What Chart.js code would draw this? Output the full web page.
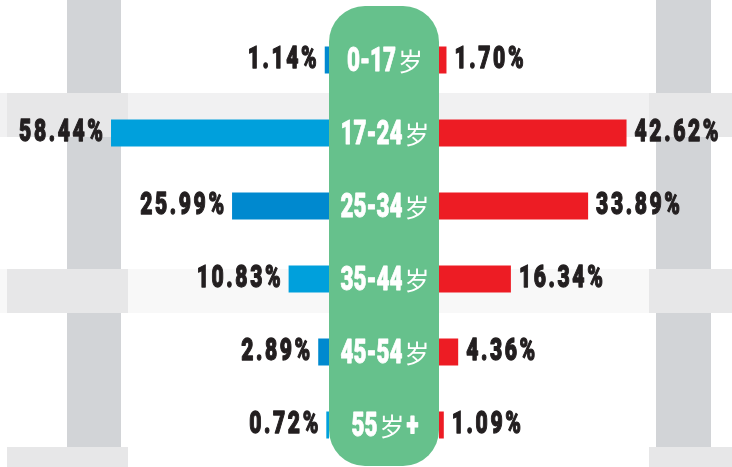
<!DOCTYPE html>
<html lang="zh">
<head>
<meta charset="utf-8">
<title>用户年龄分布</title>
<script src="https://cdn.jsdelivr.net/npm/chart.js@4.4.1/dist/chart.umd.min.js"></script>
<style>
  html, body { margin: 0; padding: 0; background: #fff; }
  #wrap { position: relative; width: 732px; height: 467px; }
</style>
</head>
<body>
<div id="wrap"><canvas id="ageChart"></canvas></div>
<script>
'use strict';

// ── data ────────────────────────────────────────────────────────────────────
const AGE_GROUPS   = ['0-17岁', '17-24岁', '25-34岁', '35-44岁', '45-54岁', '55岁+'];
const LEFT_VALUES  = [1.14, 58.44, 25.99, 10.83, 2.89, 0.72];   // blue side, %
const RIGHT_VALUES = [1.70, 42.62, 33.89, 16.34, 4.36, 1.09];   // red side, %

// ── layout / style ──────────────────────────────────────────────────────────
const W = 732;
const PILL = { left: 329, right: 439, top: 6, bottom: 466, r: 36 };
const PX_PER_PCT_LEFT = 3.73;    // the two halves are drawn at different scales
const PX_PER_PCT_RIGHT = 4.4;

const BLUE_DARK = '#0089cf';
const BLUE_LIGHT = '#00a0dc';
const RED = '#ed1c24';
const GREEN = '#66c18c';
const INK = '#231f20';

const NUM_FONT = '900 31px Roboto, "Liberation Sans", sans-serif';
const AGE_FONT = '900 33px Roboto, "Liberation Sans", sans-serif';
const CJK_FONT = '400 25px "Noto Sans CJK SC", sans-serif';

// ── helpers ─────────────────────────────────────────────────────────────────

/** width of a run of glyphs drawn squeezed horizontally by sx, with extra gap */
function runWidth(ctx, text, font, sx, gap) {
  ctx.font = font;
  const chars = [...text];
  const w = chars.reduce((s, ch) => s + ctx.measureText(ch).width * sx, 0);
  return w + gap * Math.max(0, chars.length - 1);
}

/** draw a run glyph by glyph starting at x (left edge), baseline y; bold > 0 fattens strokes */
function drawRun(ctx, text, x, y, font, sx, gap, color, bold = 0) {
  ctx.save();
  ctx.font = font;
  ctx.fillStyle = color;
  ctx.strokeStyle = color;
  ctx.lineJoin = 'round';
  ctx.textAlign = 'left';
  ctx.textBaseline = 'alphabetic';
  let cx = x;
  for (const ch of text) {
    const w = ctx.measureText(ch).width;
    ctx.save();
    ctx.translate(cx, y);
    ctx.scale(sx, 1);
    ctx.fillText(ch, 0, 0);
    if (bold > 0) {
      ctx.lineWidth = bold;
      ctx.strokeText(ch, 0, 0);
    }
    ctx.restore();
    cx += w * sx + gap;
  }
  ctx.restore();
}

function pillPath(ctx, p) {
  const { left: x0, right: x1, top: y0, bottom: y1, r } = p;
  ctx.beginPath();
  ctx.moveTo(x0 + r, y0);
  ctx.arcTo(x1, y0, x1, y1, r);
  ctx.arcTo(x1, y1, x0, y1, r);
  ctx.arcTo(x0, y1, x0, y0, r);
  ctx.arcTo(x0, y0, x1, y0, r);
  ctx.closePath();
}

// ── plugins ─────────────────────────────────────────────────────────────────

// grey pillars and bands behind everything
const backdrop = {
  id: 'backdrop',
  beforeDraw(chart) {
    const ctx = chart.ctx;
    ctx.save();
    // faint horizontal bands
    ctx.fillStyle = '#f1f1f2';
    ctx.fillRect(0, 93, W, 44);
    ctx.fillStyle = '#f8f8f8';
    ctx.fillRect(0, 269, W, 44);
    // pillars
    ctx.fillStyle = '#d2d4d7';
    ctx.fillRect(67, 0, 54, 467);
    ctx.fillRect(656, 0, 55, 467);
    // blocks crossing the pillars
    ctx.fillStyle = '#e7e7e8';
    [[93, 44], [269, 44], [447, 20]].forEach(([y, h]) => {
      ctx.fillRect(7, y, 121, h);
      ctx.fillRect(649, y, W - 649, h);
    });
    ctx.restore();
  },
};

// green pill with the age groups, then the value labels
const overlay = {
  id: 'overlay',
  afterDatasetsDraw(chart) {
    const ctx = chart.ctx;
    const yScale = chart.scales.y;

    ctx.save();
    pillPath(ctx, PILL);
    ctx.fillStyle = GREEN;
    ctx.fill();
    ctx.restore();

    // age group labels: bold squeezed digits, lighter 岁
    const cx = (PILL.left + PILL.right) / 2 + 1;
    AGE_GROUPS.forEach((label, i) => {
      const y = yScale.getPixelForValue(i) + 11;
      const runs = label.split(/(岁)/).filter(Boolean).map(t => (
        t === '岁'
          ? { t, font: CJK_FONT, sx: 1, bold: 0 }
          : { t, font: AGE_FONT, sx: 0.68, bold: 0.8 }
      ));
      runs.forEach(r => { r.w = runWidth(ctx, r.t, r.font, r.sx, 0); });
      const total = runs.reduce((s, r) => s + r.w, 0) + (runs.length - 1) * 2;
      let x = cx - total / 2;
      runs.forEach(r => {
        drawRun(ctx, r.t, x, y, r.font, r.sx, 0, '#ffffff', r.bold);
        x += r.w + 2;
      });
    });

    // percentage labels next to bar ends
    const sides = [
      { meta: chart.getDatasetMeta(0), values: LEFT_VALUES, dir: -1 },
      { meta: chart.getDatasetMeta(1), values: RIGHT_VALUES, dir: 1 },
    ];
    sides.forEach(({ meta, values, dir }) => {
      meta.data.forEach((bar, i) => {
        const text = values[i].toFixed(2) + '%';
        const w = runWidth(ctx, text, NUM_FONT, 0.68, 2.6);
        const x = dir < 0 ? bar.x - 8 - w : bar.x + 8;
        drawRun(ctx, text, x, bar.y + 8, NUM_FONT, 0.68, 2.6, INK, 1.3);
      });
    });
  },
};

// ── chart ───────────────────────────────────────────────────────────────────

const leftMax = PILL.left / PX_PER_PCT_LEFT;
const rightMin = -PILL.right / PX_PER_PCT_RIGHT;

new Chart(document.getElementById('ageChart'), {
  type: 'bar',
  data: {
    labels: AGE_GROUPS,
    datasets: [
      {
        label: 'left',
        data: LEFT_VALUES,
        xAxisID: 'xL',
        backgroundColor: LEFT_VALUES.map((_, i) => (i % 2 ? BLUE_LIGHT : BLUE_DARK)),
        grouped: false,
        barPercentage: 0.37,
        categoryPercentage: 1,
      },
      {
        label: 'right',
        data: RIGHT_VALUES,
        xAxisID: 'xR',
        backgroundColor: RED,
        grouped: false,
        barPercentage: 0.37,
        categoryPercentage: 1,
      },
    ],
  },
  options: {
    indexAxis: 'y',
    animation: false,
    responsive: true,
    maintainAspectRatio: false,
    layout: { padding: { top: 23.5, bottom: 5.5, left: 0, right: 0 } },
    scales: {
      y: { type: 'category', display: false, offset: true },
      xL: {
        type: 'linear', display: false, reverse: true, bounds: 'data',
        max: leftMax, min: leftMax - W / PX_PER_PCT_LEFT,
      },
      xR: {
        type: 'linear', display: false, bounds: 'data',
        min: rightMin, max: rightMin + W / PX_PER_PCT_RIGHT,
      },
    },
    plugins: {
      legend: { display: false },
      tooltip: { enabled: false },
    },
  },
  plugins: [backdrop, overlay],
});
</script>
</body>
</html>
